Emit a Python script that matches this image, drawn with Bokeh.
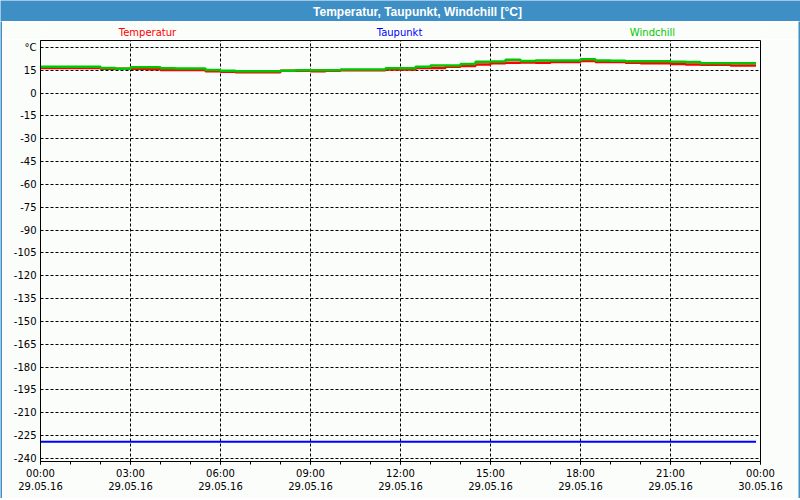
from bokeh.plotting import figure
from bokeh.models import Range1d, FixedTicker
from bokeh.layouts import column, row
from bokeh.core.properties import value
from bokeh.embed import file_html
from bokeh.resources import INLINE

# ---------------- data ----------------
title_text = "Temperatur, Taupunkt, Windchill [°C]"
series_names = ["Temperatur", "Taupunkt", "Windchill"]
series_colors = ["#FF0000", "#0000FF", "#00C800"]

# half-hourly readings, hours since 29.05.16 00:00
hours = [i / 2 for i in range(48)]
end_hour = 23.85

temperatur = [16.5, 16.5, 16.5, 16.5, 16.1, 16.0, 16.1, 15.7,
              15.3, 15.3, 15.3, 14.4, 14.0, 13.7, 13.7, 13.7,
              14.7, 14.7, 14.4, 14.8, 15.0, 15.0, 15.0, 15.5,
              15.5, 16.5, 16.5, 17.4, 17.9, 18.9, 19.6, 19.9,
              20.2, 19.9, 20.5, 20.4, 21.1, 20.4, 20.4, 19.9,
              19.6, 19.6, 19.2, 18.9, 18.7, 18.7, 18.2, 18.2]

windchill = [17.4, 17.4, 17.4, 17.4, 16.5, 16.1, 17.1, 17.1,
             16.3, 16.2, 16.2, 15.3, 14.7, 14.4, 14.4, 14.4,
             14.8, 15.0, 15.0, 15.0, 15.5, 15.5, 15.5, 16.3,
             16.3, 17.3, 18.1, 18.1, 19.2, 20.6, 20.8, 22.0,
             21.2, 21.5, 21.5, 21.5, 22.3, 21.5, 21.3, 21.0,
             21.0, 21.0, 20.6, 20.4, 19.7, 19.7, 19.7, 19.7]

taupunkt = [-229.0, -229.0, -229.0, -229.0, -229.0, -229.0, -229.0, -229.0,
            -229.0, -229.0, -229.0, -229.0, -229.0, -229.0, -229.0, -229.0,
            -229.0, -229.0, -229.0, -229.0, -229.0, -229.0, -229.0, -229.0,
            -229.0, -229.0, -229.0, -229.0, -229.0, -229.0, -229.0, -229.0,
            -229.0, -229.0, -229.0, -229.0, -229.0, -229.0, -229.0, -229.0,
            -229.0, -229.0, -229.0, -229.0, -229.0, -229.0, -229.0, -229.0]

x_ticks = [0, 3, 6, 9, 12, 15, 18, 21, 24]
x_tick_labels = ["00:00\n29.05.16", "03:00\n29.05.16", "06:00\n29.05.16",
                 "09:00\n29.05.16", "12:00\n29.05.16", "15:00\n29.05.16",
                 "18:00\n29.05.16", "21:00\n29.05.16", "00:00\n30.05.16"]
x_minor = list(range(25))

y_ticks = [30, 15, 0, -15, -30, -45, -60, -75, -90, -105, -120, -135,
           -150, -165, -180, -195, -210, -225, -240]
y_tick_labels = ["°C", "15", "0", "-15", "-30", "-45", "-60", "-75", "-90",
                 "-105", "-120", "-135", "-150", "-165", "-180", "-195",
                 "-210", "-225", "-240"]

# ---------------- style ----------------
BLUE = "#3D8FC6"
BG = "#FBFDFB"
FONT = "DejaVu Sans"


def blank(w, h, color, xr=(0, 1), yr=(0, 1), bl=0, br=0):
    f = figure(width=w, height=h, output_backend="svg", toolbar_location=None,
               x_range=Range1d(*xr), y_range=Range1d(*yr), min_border=0,
               min_border_left=bl, min_border_right=br)
    f.axis.visible = False
    f.grid.visible = False
    f.background_fill_color = color
    f.border_fill_color = color
    f.outline_line_color = None
    return f


# title bar
header = blank(800, 21, BLUE, xr=(0, 800), yr=(21, 0))
header.text(x=[417], y=[11], text=[title_text], text_align="center",
            text_baseline="middle", text_color="white",
            text_font=value("Liberation Sans"), text_font_style="bold",
            text_font_size="12px")

# legend row (frame spans page x 40..760, same as the chart frame)
legend_fig = blank(796, 18, BG, xr=(40, 760), yr=(39, 21), bl=38, br=38)
legend_x = [147, 399, 652]
legend_fig.text(x=legend_x, y=[32, 32, 32], text=series_names,
                text_color=series_colors, text_align="center",
                text_baseline="middle", text_font=value(FONT),
                text_font_size="10px")

# main chart
p = figure(width=796, height=459, output_backend="svg", toolbar_location=None,
           x_range=Range1d(0, 24), y_range=Range1d(-242, 34.6),
           min_border_left=38, min_border_right=38, min_border_top=1,
           min_border_bottom=37)
p.background_fill_color = BG
p.border_fill_color = BG
p.outline_line_color = "black"
p.outline_line_width = 1

p.xaxis.ticker = FixedTicker(ticks=x_ticks, minor_ticks=x_minor)
p.xaxis.major_label_overrides = {t: l for t, l in zip(x_ticks, x_tick_labels)}
p.yaxis.ticker = FixedTicker(ticks=y_ticks)
p.yaxis.major_label_overrides = {t: l for t, l in zip(y_ticks, y_tick_labels)}

for ax in (p.xaxis[0], p.yaxis[0]):
    ax.axis_line_color = "black"
    ax.major_label_text_font = FONT
    ax.major_label_text_font_size = "10px"
    ax.major_label_text_color = "black"
    ax.major_tick_in = 0
    ax.minor_tick_in = 0
    ax.major_tick_line_color = "black"
    ax.minor_tick_line_color = "black"

p.xaxis.major_tick_out = 3
p.xaxis.minor_tick_out = 3
p.xaxis.major_label_standoff = 3
p.yaxis.major_tick_out = 0
p.yaxis.minor_tick_out = 0
p.yaxis.major_label_standoff = 4

p.xgrid.ticker = FixedTicker(ticks=x_ticks)
p.ygrid.ticker = FixedTicker(ticks=y_ticks)
for g in (p.xgrid[0], p.ygrid[0]):
    g.grid_line_color = "black"
    g.grid_line_dash = "3 2"
    g.grid_line_width = 1

xs = hours + [end_hour]
p.step(xs, taupunkt + [taupunkt[-1]], mode="after",
       line_color=series_colors[1], line_width=2)
p.step(xs, temperatur + [temperatur[-1]], mode="after",
       line_color=series_colors[0], line_width=2.5)
p.step(xs, windchill + [windchill[-1]], mode="after",
       line_color=series_colors[2], line_width=2.5)

layout = column(
    header,
    row(blank(2, 477, BLUE), column(legend_fig, p), blank(2, 477, BLUE)),
    blank(800, 2, BLUE),
)

open("out.html", "w").write(file_html(layout, INLINE))
